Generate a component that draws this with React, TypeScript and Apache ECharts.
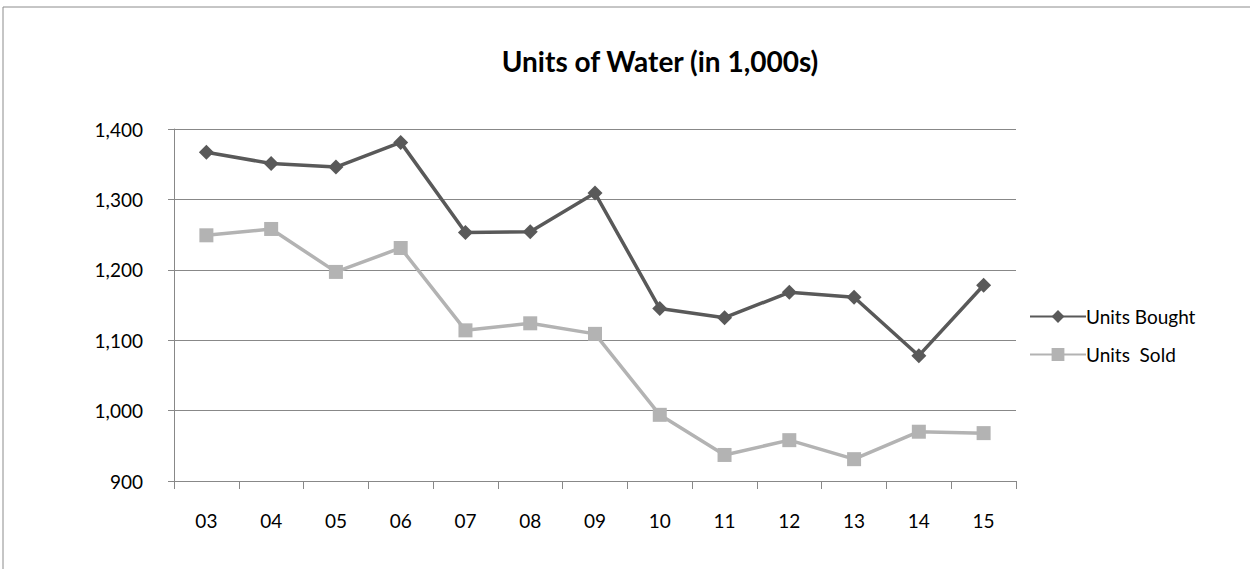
import React, { useEffect, useRef } from "react";
import * as echarts from "echarts";

const years = ["03", "04", "05", "06", "07", "08", "09", "10", "11", "12", "13", "14", "15"];
const unitsBought = [1367, 1351, 1346, 1381, 1253, 1254, 1309, 1145, 1132, 1168, 1161, 1078, 1178];
const unitsSold = [1249, 1258, 1197, 1231, 1114, 1124, 1109, 994, 937, 958, 931, 970, 968];
const yTicks = { min: 900, max: 1400, interval: 100 };

const FONT = "Lato, 'Open Sans', sans-serif";

export default function App() {
  const ref = useRef<HTMLDivElement>(null);
  useEffect(() => {
    if (!ref.current) return;
    const chart = echarts.init(ref.current, undefined, { renderer: "svg" });
    chart.setOption({
      animation: false,
      backgroundColor: "#ffffff",
      title: {
        text: "Units of Water (in 1,000s)",
        left: 655,
        textAlign: "center",
        top: 42,
        textStyle: { fontFamily: FONT, fontSize: 28, fontWeight: "bold", color: "#000" },
      },
      graphic: [
        {
          type: "rect",
          shape: { x: 3, y: 7, width: 1300, height: 700 },
          style: { fill: "none", stroke: "#8c8c8c", lineWidth: 1 },
          silent: true,
        },
      ],
      legend: {
        orient: "vertical",
        left: 1024,
        top: 302,
        itemWidth: 56,
        itemHeight: 16,
        itemGap: 19,
        textStyle: { fontFamily: FONT, fontSize: 19, color: "#000", padding: [0, 0, 0, -5] },
        data: ["Units Bought", "Units  Sold"],
      },
      grid: { left: 174, right: 234, top: 129, bottom: 88, containLabel: false },
      xAxis: {
        type: "category",
        data: years,
        boundaryGap: true,
        axisLine: { lineStyle: { color: "#888", width: 1 } },
        axisTick: { show: true, length: 8, lineStyle: { color: "#888" } },
        axisLabel: { fontFamily: FONT, fontSize: 19, color: "#000", margin: 30 },
      },
      yAxis: {
        type: "value",
        min: yTicks.min,
        max: yTicks.max,
        interval: yTicks.interval,
        axisLine: { show: true, lineStyle: { color: "#888", width: 1 } },
        axisTick: { show: true, length: 6, lineStyle: { color: "#888" } },
        splitLine: { lineStyle: { color: "#888", width: 1 } },
        axisLabel: {
          fontFamily: FONT,
          fontSize: 19,
          color: "#000",
          margin: 31,
          formatter: (v: number) => v.toLocaleString("en-US"),
        },
      },
      series: [
        {
          name: "Units Bought",
          type: "line",
          data: unitsBought,
          symbol: "diamond",
          symbolSize: 15,
          lineStyle: { color: "#595959", width: 3.5 },
          itemStyle: { color: "#595959" },
        },
        {
          name: "Units  Sold",
          type: "line",
          data: unitsSold,
          symbol: "rect",
          symbolSize: 14,
          lineStyle: { color: "#b3b3b3", width: 3.5 },
          itemStyle: { color: "#b3b3b3" },
        },
      ],
    });
    return () => chart.dispose();
  }, []);
  return <div ref={ref} style={{ position: "fixed", left: 0, top: 0, width: 1250, height: 569 }} />;
}
